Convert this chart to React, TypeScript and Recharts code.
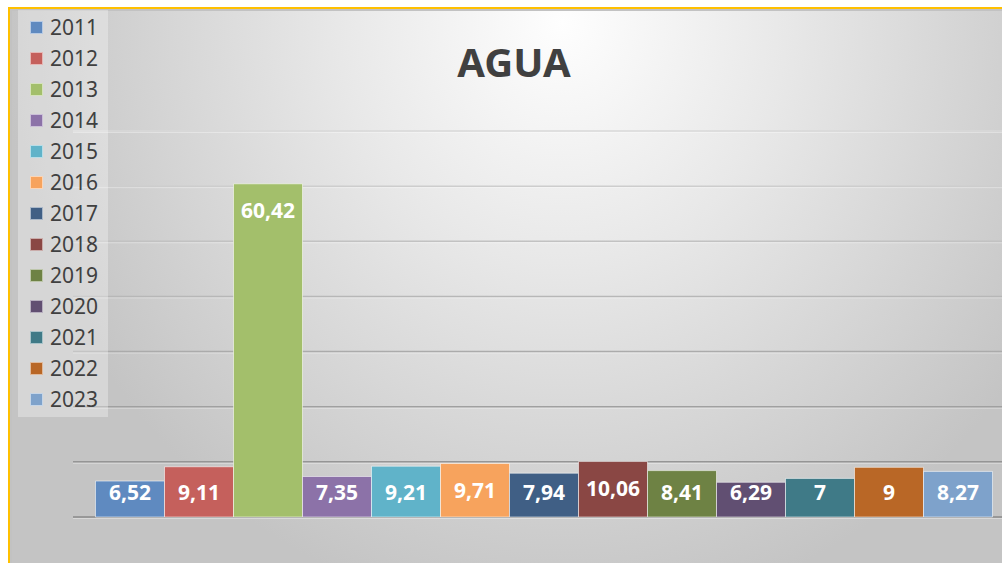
import React from 'react';
import { BarChart, Bar, XAxis, YAxis, CartesianGrid, Legend, LabelList } from 'recharts';

const categories = ['AGUA'];
const years = ['2011', '2012', '2013', '2014', '2015', '2016', '2017', '2018', '2019', '2020', '2021', '2022', '2023'];
const values = [6.52, 9.11, 60.42, 7.35, 9.21, 9.71, 7.94, 10.06, 8.41, 6.29, 7, 9, 8.27];
const colors = ['#5f8ac0', '#c5605c', '#a3bf6b', '#8c72a8', '#60b3c9', '#f7a35d', '#405f85', '#8a4744', '#6e8244', '#614f72', '#3f7a87', '#b96726', '#7ea2cb'];
const yTicks = [0, 10, 20, 30, 40, 50, 60, 70];
const title = 'AGUA';

const data = categories.map((c) => {
  const row: Record<string, any> = { name: c };
  years.forEach((y, i) => {
    row[y] = values[i];
  });
  return row;
});

const FONT = '"Noto Sans", "DejaVu Sans", sans-serif';

const PLOT_TOP = 131;
const PLOT_BOTTOM = 517;

const gridColor = (y: number) => {
  const t = Math.max(0, Math.min(1, (y - PLOT_TOP) / (PLOT_BOTTOM - PLOT_TOP)));
  const v = Math.round(216 - (216 - 138) * t);
  return `rgb(${v},${v},${v})`;
};

const renderGridLine = (props: any) => {
  const { x1, x2, y1, index } = props;
  const c = gridColor(y1);
  return (
    <g key={`gl-${index}-${y1}`}>
      <line x1={x1} x2={x2} y1={y1} y2={y1} stroke={c} strokeWidth={1.5} />
      <line x1={x1} x2={x2} y1={y1 + 1.5} y2={y1 + 1.5} stroke="rgba(255,255,255,0.35)" strokeWidth={1} />
    </g>
  );
};

const renderLabel = (props: any) => {
  const { x, y, width, height, value } = props;
  const top = Number(y);
  const bottom = top + Number(height);
  const baseline = Math.min(top + 34.5, bottom - 17);
  return (
    <text
      x={Number(x) + Number(width) / 2}
      y={baseline}
      textAnchor="middle"
      fill="#ffffff"
      fontWeight={700}
      fontSize={21}
      fontFamily={FONT}
    >
      {String(value).replace('.', ',')}
    </text>
  );
};

const renderLegend = (props: any) => {
  const payload = props.payload || [];
  return (
    <div style={{ paddingTop: 1.5, paddingLeft: 12, boxSizing: 'border-box' }}>
      {payload.map((entry: any) => (
        <div
          key={entry.value}
          style={{ height: 31, display: 'flex', alignItems: 'center', fontFamily: FONT, fontSize: 21, color: '#404040', lineHeight: '31px' }}
        >
          <span
            style={{
              width: 13,
              height: 13,
              background: entry.color,
              boxSizing: 'border-box',
              border: '1px solid rgba(255,255,255,0.55)',
              marginRight: 7,
              display: 'inline-block',
            }}
          />
          <span>{entry.value}</span>
        </div>
      ))}
    </div>
  );
};

export default function App() {
  return (
    <div style={{ position: 'absolute', left: 0, top: 0, width: 1002, height: 563, overflow: 'hidden' }}>
      <div
        style={{
          position: 'absolute',
          left: 8,
          top: 7,
          width: 1100,
          height: 620,
          boxSizing: 'border-box',
          borderTop: '2px solid #FFC000',
          borderLeft: '2px solid #FFC000',
        }}
      >
        <div
          style={{
            position: 'absolute',
            inset: 0,
            borderTop: '2px solid #c2c2c2',
            borderLeft: '2px solid #c2c2c2',
            background:
              'radial-gradient(ellipse 560px 600px at 550px 11px, #fefefe 0%, #e8e8e8 40%, #c4c4c4 100%)',
          }}
        />
      </div>
      <div style={{ position: 'absolute', left: 0, top: 0 }}>
        <BarChart
          width={1030}
          height={563}
          data={data}
          margin={{ top: PLOT_TOP, right: 15, bottom: 563 - PLOT_BOTTOM, left: 73 }}
          barCategoryGap={22.5}
          barGap={0}
        >
          <CartesianGrid vertical={false} horizontal={renderGridLine} />
          <XAxis dataKey="name" hide />
          <YAxis hide domain={[0, 70]} ticks={yTicks} />
          <Legend
            layout="vertical"
            align="center"
            verticalAlign="middle"
            content={renderLegend}
            wrapperStyle={{
              left: 18,
              top: 10,
              width: 90,
              height: 407,
              background: 'rgba(255,255,255,0.3)',
            }}
          />
          {years.map((y, i) => (
            <Bar
              key={y}
              dataKey={y}
              name={y}
              fill={colors[i]}
              stroke="rgba(255,255,255,0.55)"
              strokeWidth={1}
              isAnimationActive={false}
            >
              <LabelList dataKey={y} content={renderLabel} />
            </Bar>
          ))}
        </BarChart>
      </div>
      <svg style={{ position: 'absolute', left: 0, top: 0 }} width={1002} height={100}>
        <text x={514} y={77} textAnchor="middle" fontFamily={FONT} fontWeight={700} fontSize={40} fill="#404040">
          {title}
        </text>
      </svg>
    </div>
  );
}
